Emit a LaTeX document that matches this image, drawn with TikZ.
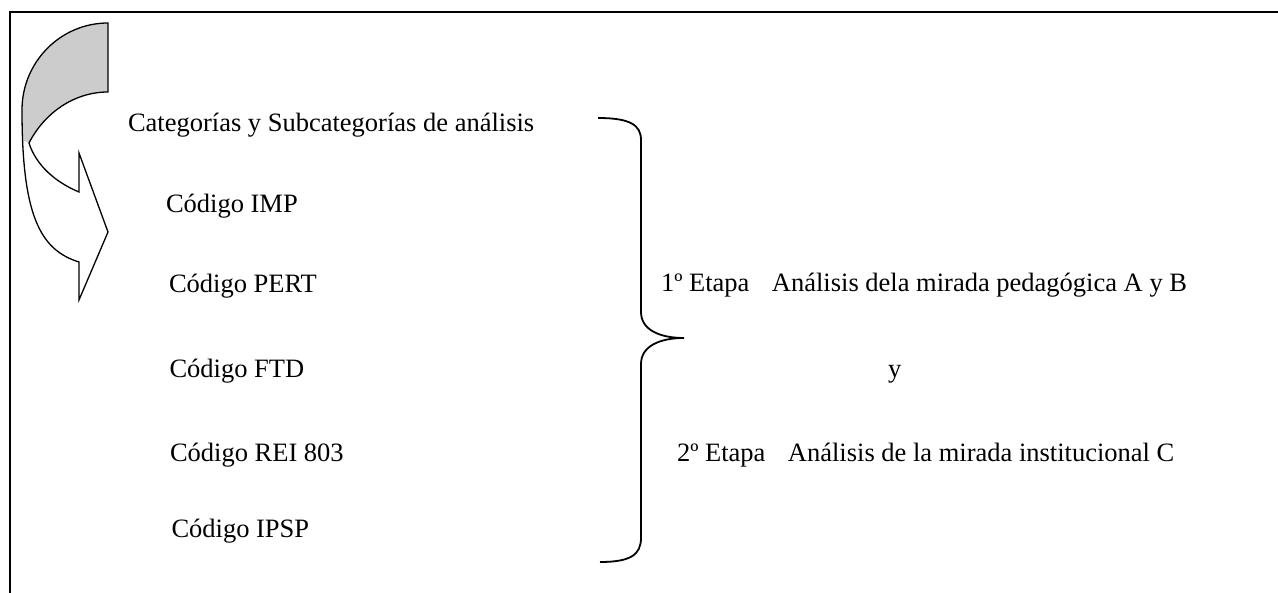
\documentclass[tikz,border=0pt]{standalone}
\usepackage{fontspec}
\setmainfont{Liberation Serif}
\begin{document}
\begin{tikzpicture}[x=1pt,y=-1pt,
  lbl/.style={anchor=base west,inner sep=0pt,outer sep=0pt,font=\fontsize{26.5}{30}\selectfont},
  frameline/.style={line width=1.8pt,line cap=rect},
  bracestyle/.style={line width=1.8pt},
  arrowoutline/.style={line width=1.3pt,line join=miter},
  grayface/.style={fill=black!20}]
\useasboundingbox (0,0) rectangle (1278,593);
% frame
\draw[frameline] (1278,12) -- (10,12) -- (10,593);
% curved arrow: gray back face
\fill[grayface] (108,23) .. controls (60.5,23) and (22,62) .. (22,110)
  -- (22.5,140) -- (29,143) .. controls (45,112) and (75,92) .. (108,92) -- cycle;
% curved arrow outline
\draw[arrowoutline] (108,23) .. controls (60.5,23) and (22,62) .. (22,110)
  .. controls (22,215) and (40,250) .. (79,262)
  -- (79,300) -- (108,232) -- (79,153) -- (79,192)
  .. controls (55,182) and (36,165) .. (29,143)
  .. controls (45,112) and (75,92) .. (108,92) -- cycle;
% texts
\node[lbl] (cat) at (128,131.7) {Categorías y Subcategorías de análisis};
\node[lbl] (imp) at (166,212.5) {Código IMP};
\node[lbl] (pert) at (169,293) {Código PERT};
\node[lbl] (ftd) at (169.5,378) {Código FTD};
\node[lbl] (rei) at (170,461.5) {Código REI 803};
\node[lbl] (ipsp) at (171.5,537) {Código IPSP};
\node[lbl] (e1) at (661,292) {1º Etapa\hspace{0.85em}Análisis dela mirada pedagógica A y B};
\node[lbl] (ylab) at (888,378) {y};
\node[lbl] (e2) at (677,461.5) {2º Etapa\hspace{0.85em}Análisis de la mirada institucional C};
% brace
\coordinate (btop) at (598,118);
\coordinate (btip) at (684,338);
\coordinate (bbot) at (600,562);
\draw[bracestyle] (btop) .. controls (630,118) and (641,125) .. (641,140)
  -- (641,312) .. controls (641,330) and (660,338) .. (btip)
  .. controls (660,338) and (641,346) .. (641,364)
  -- (641,538) .. controls (641,555) and (630,562) .. (bbot);
\end{tikzpicture}
\end{document}
